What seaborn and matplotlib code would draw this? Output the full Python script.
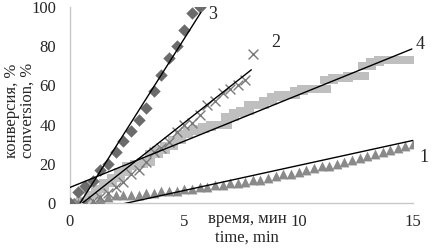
import numpy as np
import pandas as pd
import seaborn as sns
import matplotlib.pyplot as plt
from matplotlib.path import Path

# ----------------------------- DATA --------------------------------------------------------------------

# sampling times (every 20 s)
t1 = np.round(np.arange(46) / 3, 2)   # 0 .. 15 min
t2 = np.round(np.arange(25) / 3, 2)   # 0 .. 8 min
t3 = np.round(np.arange(18) / 3, 2)   # 0 .. 5.67 min
t4 = np.round(np.arange(46) / 3, 2)   # 0 .. 15 min

conv1 = [0, 0, 0, 0, 2, 3, 4, 4, 4, 4, 5, 5, 6, 6, 6, 7, 7, 8, 8, 9, 9, 10, 10, 11, 12, 12,
         13, 14, 15, 15, 16, 17, 18, 19, 19, 20, 21, 22, 23, 24, 25, 26, 27, 28, 29, 30]
conv2 = [0, 0, 0, 1, 3, 5, 8, 11, 15, 17, 21, 26, 28, 31, 36, 40, 41, 45, 50, 52, 56, 58,
         60, 63, 76]
conv3 = [0, 5.5, 8.5, 11.5, 17, 20, 26, 31.5, 37, 42.5, 48.5, 57, 65.5, 74, 80, 88.5, 97, 100]
conv4 = [0, 0, 1, 4, 7, 10, 13, 16, 19, 20, 21, 25, 27, 29, 32, 35, 37, 38, 39, 40, 40, 44,
         46, 47, 50, 50, 52, 54, 55, 55, 57, 58, 58, 58, 63, 64, 64, 65, 65, 70, 72, 73, 73,
         73, 73, 73]

# linear trend lines: slope, intercept, t range
trend_names = ["1", "2", "3", "4"]
trend_slope = [2.55, 9.2, 18.4, 4.72]
trend_icpt = [-6.3, -5.0, -8.1, 8.0]
trend_tmax = [15.0, 7.93, 5.72, 14.95]
label_x = [15.5, 9.0, 6.25, 15.3]
label_y = [23.5, 82, 96, 81]

# ----------------------------- STYLE -------------------------------------------------------------------

sns.set_style("white")
plt.rcParams["font.family"] = ["Liberation Serif", "DejaVu Serif"]
plt.rcParams["font.size"] = 12

fig = plt.figure(figsize=(4.32, 2.48), dpi=100)
ax = fig.add_axes([0.162, 0.181, 0.794, 0.791])

dash = Path([(-1, -0.4), (1, -0.4), (1, 0.4), (-1, 0.4), (-1, -0.4)],
            [Path.MOVETO, Path.LINETO, Path.LINETO, Path.LINETO, Path.CLOSEPOLY])

df4 = pd.DataFrame({"t": t4, "c": conv4})
df1 = pd.DataFrame({"t": t1, "c": conv1})
df2 = pd.DataFrame({"t": t2, "c": conv2})
df3 = pd.DataFrame({"t": t3, "c": conv3})

sns.scatterplot(data=df4, x="t", y="c", marker=dash, s=170, color="#bfbfbf",
                linewidth=0, ax=ax, zorder=2)
sns.scatterplot(data=df1, x="t", y="c", marker="^", s=50, color="#8a8a8a",
                linewidth=0, ax=ax, zorder=3)
sns.scatterplot(data=df2, x="t", y="c", marker="x", s=50, color="#7a7a7a",
                linewidth=1.0, ax=ax, zorder=3)
sns.scatterplot(data=df3, x="t", y="c", marker="D", s=40, color="#6b6b6b",
                linewidth=0, ax=ax, zorder=3)

for name, k, b, tm, lx, ly in zip(trend_names, trend_slope, trend_icpt, trend_tmax,
                                   label_x, label_y):
    tt = [0, tm]
    sns.lineplot(x=tt, y=[k * v + b for v in tt], color="black", linewidth=1.0, ax=ax,
                 zorder=4)
    ax.text(lx, ly, name, fontsize=13, ha="center", va="center")

ax.set_xlim(0, 15)
ax.set_ylim(0, 100)
ax.set_xticks([0, 5, 10, 15])
ax.set_yticks([0, 20, 40, 60, 80, 100])
ax.tick_params(axis="both", length=3, color="#c8c8c8", labelsize=12)
ax.tick_params(axis="y", pad=7)
ax.tick_params(axis="x", pad=5)

for side in ["top", "right"]:
    ax.spines[side].set_visible(False)
for side in ["left", "bottom"]:
    ax.spines[side].set_color("#c8c8c8")
    ax.spines[side].set_linewidth(1.0)

ax.set_xlabel("")
ax.set_ylabel("")
fig.text(0.572, 0.08, "время, мин\ntime, min", ha="center", va="center", fontsize=12,
         linespacing=1.25)
fig.text(0.046, 0.555, "конверсия, %\nconversion, %", ha="center", va="center",
         fontsize=12, rotation=90, linespacing=1.0)

fig.savefig("out.png", dpi=100)
